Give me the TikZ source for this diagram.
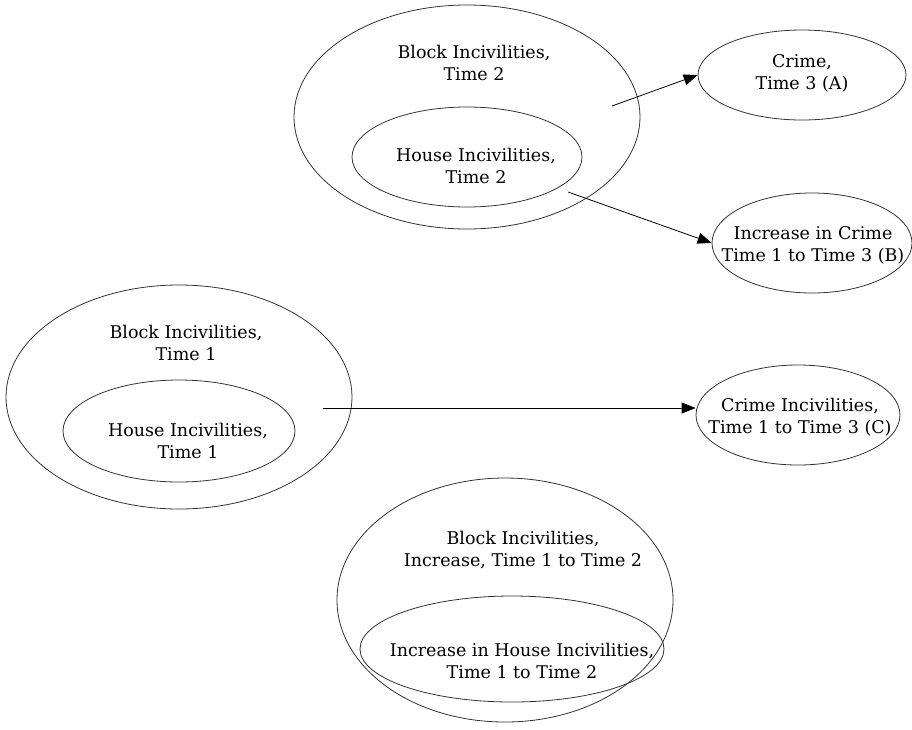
\documentclass[tikz,border=0pt]{standalone}
\usepackage{fontspec}
\setmainfont{DejaVu Serif}
\usetikzlibrary{arrows.meta,shapes.geometric,positioning}

\begin{document}
\begin{tikzpicture}[x=1pt, y=-1pt,
           > = {Triangle[length=14pt, width=11pt]}, line width=0.8pt,
   oval/.style = {ellipse, draw=black!80, inner sep=0pt},% empty ellipses
    txt/.style = {align=center, inner sep=0pt,
                  font=\fontsize{17.5}{22}\selectfont},% text in ellipses
]
\useasboundingbox (0,0) rectangle (912,729);
% block and house, time 2
\node[oval, minimum width=346, minimum height=224] (blk2) at (467,117) {};
\node[oval, minimum width=230, minimum height=100] (hse2) at (467,157) {};
\node[txt] (blk2t) at (474,63)  {Block Incivilities,\\Time 2};
\node[txt] (hse2t) at (476,166) {House Incivilities,\\Time 2};
% outcomes
\node[oval, minimum width=208, minimum height=90]  (crA) at (802,75)  {};
\node[oval, minimum width=200, minimum height=100] (crB) at (812,243) {};
\node[oval, minimum width=204, minimum height=100] (crC) at (798,415) {};
\node[txt] (crAt) at (802,73.5)  {Crime,\\Time 3 (A)};
\node[txt] (crBt) at (813,245.5) {Increase in Crime\\Time 1 to Time 3 (B)};
\node[txt] (crCt) at (800,417.5) {Crime Incivilities,\\Time 1 to Time 3 (C)};
% block and house, time 1
\node[oval, minimum width=346, minimum height=224] (blk1) at (179,397) {};
\node[oval, minimum width=232, minimum height=102] (hse1) at (179,431) {};
\node[txt] (blk1t) at (186,342.5) {Block Incivilities,\\Time 1};
\node[txt] (hse1t) at (188,441)   {House Incivilities,\\Time 1};
% increase, time 1 to time 2
\node[oval, minimum width=336, minimum height=244] (blkI) at (505,600) {};
\node[oval, minimum width=304, minimum height=106] (hseI) at (512,649) {};
\node[txt] (blkIt) at (523,550) {Block Incivilities,\\Increase, Time 1 to Time 2};
\node[txt] (hseIt) at (522,661) {Increase in House Incivilities,\\Time 1 to Time 2};
% arrows
\coordinate (a1) at (612,106);
\coordinate (b1) at (568,192);
\coordinate (c1) at (323,408);
\draw[->] (a1) -- (crA.west);
\draw[->] (b1) -- (crB.west);
\draw[->] (c1) -- (c1 -| crC.west);
\end{tikzpicture}
\end{document}
